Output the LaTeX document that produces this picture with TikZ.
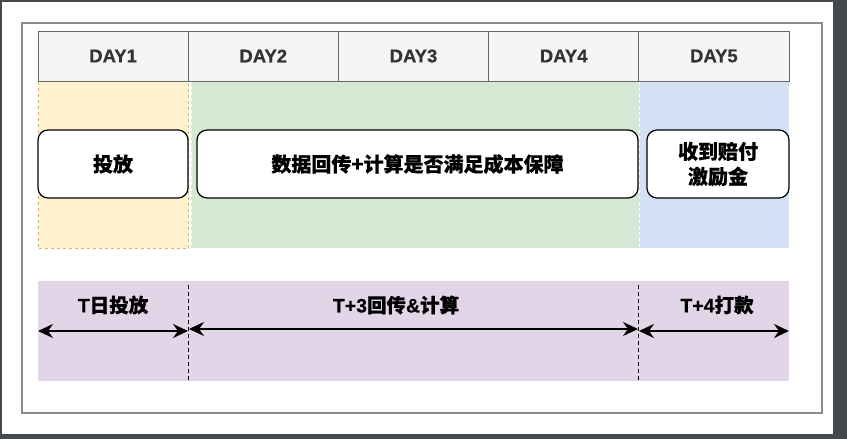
\documentclass[tikz,border=0pt]{standalone}
\usepackage{fontspec}
\setmainfont{Liberation Sans}[BoldFeatures={FakeBold=0.6}]
\newfontfamily\cjk{Noto Sans CJK SC}[BoldFeatures={FakeBold=0.4}]
\usepackage{tikz}
\usetikzlibrary{arrows.meta}
\definecolor{gris}{HTML}{666666}
\definecolor{texte}{HTML}{333333}
\definecolor{entete}{HTML}{F5F5F5}
\definecolor{cjaune}{HTML}{FFF2CC}
\definecolor{cjaunebord}{HTML}{D6B656}
\definecolor{cvert}{HTML}{D5E8D4}
\definecolor{cbleu}{HTML}{D4E1F5}
\definecolor{cmauve}{HTML}{E1D5E7}
\definecolor{ecran}{HTML}{45484C}
\definecolor{cadre}{HTML}{8C8C8C}

\begin{document}
\begin{tikzpicture}[x=1pt, y=-1pt, >={Stealth[length=15pt,width=14pt,inset=5pt]}, thin]
  \tikzstyle{day}=[draw=gris, fill=entete, text=texte, font=\bfseries\fontsize{18.5}{22}\selectfont, minimum width=150.2pt, minimum height=50pt, inner sep=0pt, line width=1pt]
  \tikzstyle{zone}=[minimum height=167pt, inner sep=0pt, dashed, line width=1pt]
  \tikzstyle{etape}=[draw=black, fill=white, rounded corners=10pt, minimum height=68pt, inner sep=0pt, line width=1.2pt, font=\cjk\bfseries\fontsize{20}{25}\selectfont, align=center]
  \tikzstyle{delai}=[font=\bfseries\fontsize{19.5}{22}\selectfont, inner sep=0pt]

	% screen frame
	\fill[ecran] (0,0) rectangle (847,439);
	\fill[white] (2,2) rectangle (833,434);
	\draw[cadre, line width=2pt] (22,23) rectangle (822,413);
	\useasboundingbox (0,0) rectangle (847,439);

	\node[zone, fill=cjaune, draw=cjaunebord, minimum width=150pt] (Z1) at (113.5,164.5) {};
	\node[zone, fill=cvert, draw=white, minimum width=448pt]       (Z2) at (415,164.5) {};
	\node[zone, fill=cbleu, draw=white, minimum width=150pt]       (Z3) at (714,164.5) {};

	\node[day] (D1) at (113.1,56) {DAY1};
	\node[day] (D2) at (263.3,56) {DAY2};
	\node[day] (D3) at (413.5,56) {DAY3};
	\node[day] (D4) at (563.7,56) {DAY4};
	\node[day] (D5) at (713.9,56) {DAY5};

	\node[etape, minimum width=150pt] (E1) at (113,164) {投放};
	\node[etape, minimum width=441pt] (E2) at (417.5,164) {数据回传+计算是否满足成本保障};
	\node[etape, minimum width=142pt] (E3) at (718,164) {收到赔付\\激励金};

	\node[fill=cmauve, minimum width=751pt, minimum height=100pt, inner sep=0pt] (band) at (413.5,331) {};

	\coordinate (L1t) at (188.5,285);
	\coordinate (L1b) at (188.5,381);
	\coordinate (L2t) at (638.5,285);
	\coordinate (L2b) at (638.5,381);
	\coordinate (A0) at (38,331);
	\coordinate (A1) at (188,331);
	\coordinate (A2) at (189,329);
	\coordinate (A3) at (638,329);
	\coordinate (A4) at (639,331);
	\coordinate (A5) at (789,331);

	\draw[line width=1.4pt, dash pattern=on 4pt off 3pt] (L1t) -- (L1b);
	\draw[line width=1.4pt, dash pattern=on 4pt off 3pt] (L2t) -- (L2b);

	\path[line width=1.6pt]
		(A0) edge [<->] node[delai, yshift=26pt] {T{\cjk 日投放}} (A1)
		(A2) edge [<->] node[delai, pos=0.461, yshift=24pt] {T+3{\cjk 回传}\&{\cjk 计算}} (A3)
		(A4) edge [<->] node[delai, pos=0.52, yshift=26pt] {T+4{\cjk 打款}} (A5)
		;

\end{tikzpicture}
\end{document}
